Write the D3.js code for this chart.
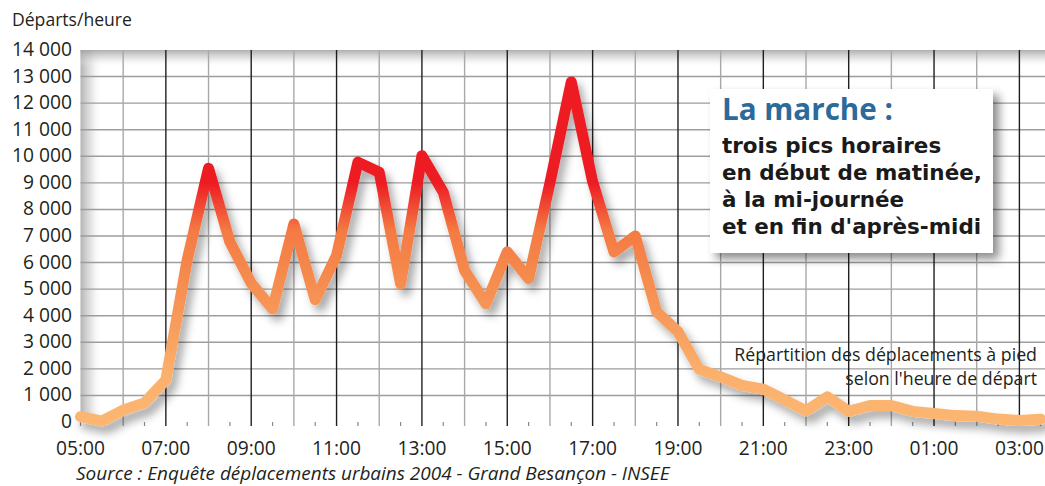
<!DOCTYPE html>
<html><head><meta charset="utf-8">
<script src="https://cdn.jsdelivr.net/npm/d3@7"></script>
<style>
html,body{margin:0;padding:0;background:#fff;}
svg{display:block;font-family:"Open Sans","Noto Sans",sans-serif;}
</style></head>
<body><svg id="c" width="1045" height="486"></svg>
<script>
// ---- data ----
const times = ["05:00","05:30","06:00","06:30","07:00","07:30","08:00","08:30","09:00","09:30",
"10:00","10:30","11:00","11:30","12:00","12:30","13:00","13:30","14:00","14:30",
"15:00","15:30","16:00","16:30","17:00","17:30","18:00","18:30","19:00","19:30",
"20:00","20:30","21:00","21:30","22:00","22:30","23:00","23:30","00:00","00:30",
"01:00","01:30","02:00","02:30","03:00","03:30"];
const departs = [200,30,450,720,1580,6100,9550,6780,5220,4250,
7450,4600,6270,9780,9400,5200,10020,8650,5700,4450,
6400,5400,9000,12800,9050,6400,7000,4150,3400,1980,
1700,1380,1240,830,420,950,400,620,620,400,
320,240,220,110,60,100];
const xTickLabels = ["05:00","07:00","09:00","11:00","13:00","15:00","17:00","19:00","21:00","23:00","01:00","03:00"];
const yTicks = [0,1000,2000,3000,4000,5000,6000,7000,8000,9000,10000,11000,12000,13000,14000];
const yAxisTitle = "Départs/heure";
const sourceText = "Source : Enquête déplacements urbains 2004 - Grand Besançon - INSEE";
const noteLines = ["Répartition des déplacements à pied","selon l'heure de départ"];
const boxTitle = "La marche :";
const boxLines = ["trois pics horaires","en début de matinée,","à la mi-journée","et en fin d'après-midi"];

function hoursFrom5(t){const [h,m]=t.split(":").map(Number);let v=h+m/60-5;if(v<0)v+=24;return v;}
function fit(sel,w){sel.each(function(){const n=this;const fs=+n.getAttribute("font-size");const cw=n.getComputedTextLength();if(cw>0)n.setAttribute("font-size",(fs*w/cw).toFixed(2));});return sel;}

const svg = d3.select("#c");
const L=80.5, R=1045, T=50, B=422;
const x = d3.scaleLinear().domain([0,22.6]).range([L,R]);
const y = d3.scaleLinear().domain([0,14000]).range([B,T]);
const ink="#231f20";

const defs = svg.append("defs");
const gl = defs.append("linearGradient").attr("id","gLeft").attr("x1","0").attr("x2","1").attr("y1","0").attr("y2","0");
gl.append("stop").attr("offset","0").attr("stop-color","#9a9a9a").attr("stop-opacity",0.75);
gl.append("stop").attr("offset","0.45").attr("stop-color","#bdbdbd").attr("stop-opacity",0.45);
gl.append("stop").attr("offset","1").attr("stop-color","#ffffff").attr("stop-opacity",0);
const gt = defs.append("linearGradient").attr("id","gTop").attr("x1","0").attr("x2","0").attr("y1","0").attr("y2","1");
gt.append("stop").attr("offset","0").attr("stop-color","#9a9a9a").attr("stop-opacity",0.8);
gt.append("stop").attr("offset","0.5").attr("stop-color","#c4c4c4").attr("stop-opacity",0.45);
gt.append("stop").attr("offset","1").attr("stop-color","#ffffff").attr("stop-opacity",0);

const gLine = defs.append("linearGradient").attr("id","gLine").attr("gradientUnits","userSpaceOnUse")
  .attr("x1",0).attr("x2",0).attr("y1",y(13000)).attr("y2",y(0));
[[13000,"#ed1c24"],[9000,"#ed1c24"],[7200,"#f47a43"],[4500,"#f69455"],[1800,"#fbb06c"],[0,"#fcb672"]]
 .forEach(([v,c])=>gLine.append("stop").attr("offset",(y(v)-y(13000))/(y(0)-y(13000))).attr("stop-color",c));

const fl = defs.append("filter").attr("id","shLine").attr("x","-10%").attr("y","-20%").attr("width","130%").attr("height","150%");
fl.append("feDropShadow").attr("dx",5).attr("dy",7).attr("stdDeviation",4).attr("flood-color","#000").attr("flood-opacity",0.33);
const fb = defs.append("filter").attr("id","shBox").attr("x","-10%").attr("y","-10%").attr("width","130%").attr("height","130%");
fb.append("feDropShadow").attr("dx",6).attr("dy",6).attr("stdDeviation",5).attr("flood-color","#000").attr("flood-opacity",0.45);

// plot background and shading
svg.append("rect").attr("x",L).attr("y",T).attr("width",R-L).attr("height",B-T).attr("fill","#fff");
svg.append("rect").attr("x",L).attr("y",T).attr("width",22).attr("height",B-T).attr("fill","url(#gLeft)");
svg.append("rect").attr("x",L).attr("y",T).attr("width",R-L).attr("height",17).attr("fill","url(#gTop)");

// horizontal gridlines
svg.append("g").selectAll("line").data(yTicks.filter(v=>v>0&&v<14000)).join("line")
  .attr("x1",L).attr("x2",R).attr("y1",d=>y(d)).attr("y2",d=>y(d))
  .attr("stroke","#9d9d9d").attr("stroke-width",1.4);

// vertical gridlines: hourly, dark on labelled (odd) hours
const hours = d3.range(1,23);
svg.append("g").selectAll("line").data(hours).join("line")
  .attr("x1",d=>x(d)).attr("x2",d=>x(d)).attr("y1",T).attr("y2",B+4)
  .attr("stroke",d=>d%2===0?"#1f1f1f":"#a8a8a8").attr("stroke-width",1.4);
svg.append("g").selectAll("line").data(d3.range(0,23).map(h=>h+0.5).concat([0])).join("line")
  .attr("x1",d=>x(d)).attr("x2",d=>x(d)).attr("y1",B).attr("y2",B+4)
  .attr("stroke","#8a8a8a").attr("stroke-width",1.2);

// y labels
const ylab = svg.append("g").selectAll("text").data(yTicks).join("text")
  .attr("x",72).attr("y",d=>y(d)+6).attr("text-anchor","end").attr("fill",ink)
  .attr("font-size",18).text(d=>d===0?"0":d3.format(",")(d).replace(/,/g," "));
{const n=ylab.filter(d=>d===14000).node();const fs=18*60/n.getComputedTextLength();ylab.attr("font-size",fs);}
// x labels
const xlab = svg.append("g").selectAll("text").data(xTickLabels).join("text")
  .attr("x",d=>x(hoursFrom5(d))).attr("y",454.5).attr("text-anchor","middle").attr("fill",ink)
  .attr("font-size",18).text(d=>d);
{const fs=18*49/xlab.node().getComputedTextLength();xlab.attr("font-size",fs);}

fit(svg.append("text").attr("x",12).attr("y",26).attr("fill",ink).attr("font-size",17).text(yAxisTitle),120);

// line
const line = d3.line().x((d,i)=>x(hoursFrom5(times[i]))).y(d=>y(d));
svg.append("path").datum(departs).attr("d",line).attr("fill","none")
  .attr("stroke","url(#gLine)").attr("stroke-width",11).attr("stroke-linejoin","round").attr("stroke-linecap","round")
  .attr("filter","url(#shLine)");

// note
const note = svg.append("g").selectAll("text").data(noteLines).join("text")
  .attr("x",1037).attr("y",(d,i)=>361+i*23.5).attr("text-anchor","end").attr("fill",ink)
  .attr("font-size",16).text(d=>d);
{const fs=16*303/note.node().getComputedTextLength();note.attr("font-size",fs);}

// annotation box
svg.append("rect").attr("x",710).attr("y",89).attr("width",283).attr("height",164).attr("fill","#fff").attr("filter","url(#shBox)");
fit(svg.append("text").attr("x",722).attr("y",120).attr("fill","#2b6a9b").attr("font-weight",700).attr("font-size",28).text(boxTitle),171);
const bl = svg.append("g").selectAll("text").data(boxLines).join("text")
  .attr("x",722).attr("y",(d,i)=>153+i*27).attr("fill","#1a1a1a").attr("font-weight",700)
  .style("font-family","'DejaVu Sans',sans-serif").attr("font-size",20).text(d=>d);
{const n=bl.filter((d,i)=>i===1).node();const fs=20*260/n.getComputedTextLength();bl.attr("font-size",fs);}

// source
fit(svg.append("text").attr("x",76).attr("y",480).attr("fill",ink).attr("font-style","italic").attr("font-size",17).text(sourceText),594);
</script></body></html>
